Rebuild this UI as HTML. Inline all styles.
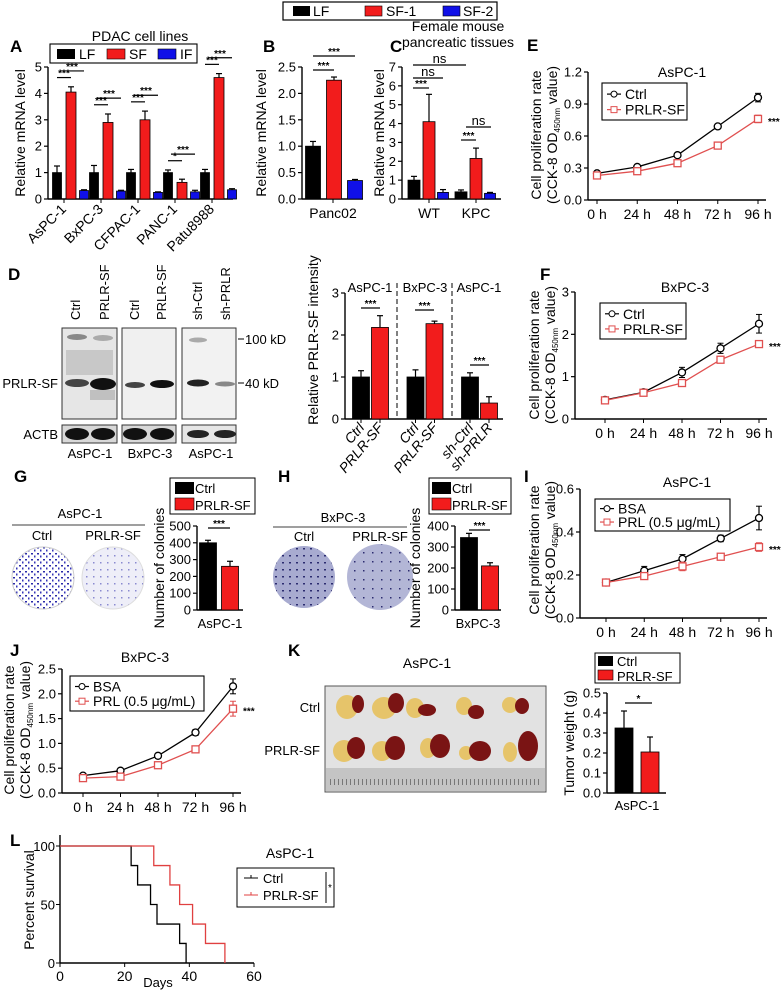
<!DOCTYPE html>
<html><head><meta charset="utf-8"><style>
html,body{margin:0;padding:0;background:#fff}
svg{display:block;font-family:"Liberation Sans",Arial,sans-serif}
text{fill:#000}
.pl{font-weight:bold;font-size:17px}
</style></head><body>
<svg id="fig" xmlns="http://www.w3.org/2000/svg" width="782" height="993" viewBox="0 0 782 993">
<defs>
<pattern id="dotsDense" width="6" height="6" patternUnits="userSpaceOnUse"><rect width="6" height="6" fill="#fff"/><rect x="1" y="1" width="2" height="1.5" fill="#2a2aa8"/><rect x="4" y="3.5" width="1.5" height="2" fill="#3535b8"/></pattern>
<pattern id="dotsLight" width="7" height="7" patternUnits="userSpaceOnUse"><rect width="7" height="7" fill="#eeeef8"/><rect x="2" y="2" width="1.5" height="1.5" fill="#8a8ad0"/></pattern>
<pattern id="dotsH1" width="7" height="7" patternUnits="userSpaceOnUse"><rect width="7" height="7" fill="#a8abd0"/><rect x="2" y="2" width="2" height="1.5" fill="#2c2c70"/></pattern>
<pattern id="dotsH2" width="9" height="9" patternUnits="userSpaceOnUse"><rect width="9" height="9" fill="#b3b6d6"/><rect x="3" y="3" width="1.5" height="1.5" fill="#2c2c70"/></pattern>
</defs>

<g>
<rect x="283" y="2" width="214" height="18" fill="#fff" stroke="#000" stroke-width="1.2"/>
<rect x="293" y="6" width="17" height="10" fill="#000"/><text x="313" y="16" font-size="14">LF</text>
<rect x="365" y="6" width="17" height="10" fill="#f21c1c" stroke="#000" stroke-width="0.6"/><text x="386" y="16" font-size="14">SF-1</text>
<rect x="443" y="6" width="17" height="10" fill="#1010e8" stroke="#000" stroke-width="0.6"/><text x="463" y="16" font-size="14">SF-2</text>
</g>

<text class="pl" x="10" y="52">A</text>
<text class="pl" x="263" y="52">B</text>
<text class="pl" x="390" y="52">C</text>
<text class="pl" x="527" y="51">E</text>
<text class="pl" x="8" y="280">D</text>
<text class="pl" x="540" y="280">F</text>
<text class="pl" x="14" y="482">G</text>
<text class="pl" x="278" y="482">H</text>
<text class="pl" x="524" y="482">I</text>
<text class="pl" x="10" y="656">J</text>
<text class="pl" x="288" y="656">K</text>
<text class="pl" x="10" y="846">L</text>

<text x="140" y="41" font-size="14" text-anchor="middle">PDAC cell lines</text>
<g>
<rect x="50" y="44" width="147" height="19" fill="#fff" stroke="#000" stroke-width="1.1"/>
<rect x="57" y="49" width="18" height="10" fill="#000"/><text x="79" y="59" font-size="14">LF</text>
<rect x="107" y="49" width="18" height="10" fill="#f21c1c" stroke="#000" stroke-width="0.6"/><text x="129" y="59" font-size="14">SF</text>
<rect x="158" y="49" width="18" height="10" fill="#1010e8" stroke="#000" stroke-width="0.6"/><text x="180" y="59" font-size="14">IF</text>
</g>
<text transform="translate(25,133) rotate(-90)" font-size="14" text-anchor="middle">Relative mRNA level</text>

<text transform="translate(266,133) rotate(-90)" font-size="14" text-anchor="middle">Relative mRNA level</text>
<text x="333" y="218" font-size="14" text-anchor="middle">Panc02</text>

<text x="458" y="31" font-size="14" text-anchor="middle">Female mouse</text>
<text x="458" y="47" font-size="14" text-anchor="middle">pancreatic tissues</text>
<text transform="translate(384,133) rotate(-90)" font-size="14" text-anchor="middle">Relative mRNA level</text>

<text x="682" y="77" font-size="14" text-anchor="middle">AsPC-1</text>
<text transform="translate(541,135) rotate(-90)" font-size="14" text-anchor="middle">Cell proliferation rate</text>
<text transform="translate(557,135) rotate(-90)" font-size="14" text-anchor="middle">(CCK-8 OD<tspan font-size="8" dy="3">450nm</tspan><tspan dy="-3"> value)</tspan></text>

<g>
<text transform="translate(80,320) rotate(-90)" font-size="13">Ctrl</text>
<text transform="translate(109,320) rotate(-90)" font-size="13">PRLR-SF</text>
<text transform="translate(139,320) rotate(-90)" font-size="13">Ctrl</text>
<text transform="translate(166,320) rotate(-90)" font-size="13">PRLR-SF</text>
<text transform="translate(202,320) rotate(-90)" font-size="13">sh-Ctrl</text>
<text transform="translate(230,320) rotate(-90)" font-size="13">sh-PRLR</text>
<rect x="62" y="328" width="55" height="91" fill="#e6e6e6" stroke="#333" stroke-width="1"/>
<rect x="122" y="328" width="54" height="91" fill="#f0f0f0" stroke="#333" stroke-width="1"/>
<rect x="182" y="328" width="54" height="91" fill="#f2f2f2" stroke="#333" stroke-width="1"/>
<ellipse cx="77" cy="337" rx="10" ry="3" fill="#888"/><ellipse cx="103" cy="338" rx="10" ry="3" fill="#aaa"/>
<rect x="66" y="350" width="47" height="25" fill="#b4b4b4" opacity="0.6"/>
<ellipse cx="77" cy="383" rx="12" ry="4" fill="#444"/><ellipse cx="103" cy="384" rx="13" ry="6" fill="#111"/>
<rect x="90" y="390" width="25" height="10" fill="#999" opacity="0.5"/>
<ellipse cx="135" cy="385" rx="10" ry="3" fill="#444"/><ellipse cx="162" cy="384" rx="12" ry="4" fill="#111"/>
<ellipse cx="198" cy="340" rx="9" ry="2.5" fill="#aaa"/>
<ellipse cx="198" cy="383" rx="11" ry="3.5" fill="#222"/><ellipse cx="225" cy="384" rx="10" ry="2.5" fill="#888"/>
<rect x="62" y="425" width="55" height="18" fill="#d8d8d8" stroke="#333"/>
<rect x="122" y="425" width="54" height="18" fill="#d8d8d8" stroke="#333"/>
<rect x="182" y="425" width="54" height="18" fill="#e6e6e6" stroke="#333"/>
<ellipse cx="77" cy="434" rx="12" ry="6" fill="#111"/><ellipse cx="103" cy="434" rx="12" ry="6" fill="#111"/>
<ellipse cx="135" cy="434" rx="12" ry="6" fill="#111"/><ellipse cx="162" cy="434" rx="12" ry="6" fill="#111"/>
<ellipse cx="198" cy="434" rx="11" ry="4" fill="#222"/><ellipse cx="225" cy="434" rx="11" ry="4" fill="#222"/>
<line x1="238" y1="339" x2="244" y2="339" stroke="#000"/><line x1="238" y1="383" x2="244" y2="383" stroke="#000"/>
<text x="245" y="344" font-size="13">100 kD</text><text x="245" y="388" font-size="13">40 kD</text>
<text x="58" y="388" font-size="13" text-anchor="end">PRLR-SF</text>
<text x="58" y="439" font-size="13" text-anchor="end">ACTB</text>
<text x="90" y="458" font-size="13" text-anchor="middle">AsPC-1</text>
<text x="150" y="458" font-size="13" text-anchor="middle">BxPC-3</text>
<text x="211" y="458" font-size="13" text-anchor="middle">AsPC-1</text>
</g>
<text transform="translate(318,340) rotate(-90)" font-size="14" text-anchor="middle">Relative PRLR-SF intensity</text>
<text x="370" y="292" font-size="13" text-anchor="middle">AsPC-1</text>
<text x="425" y="292" font-size="13" text-anchor="middle">BxPC-3</text>
<text x="479" y="292" font-size="13" text-anchor="middle">AsPC-1</text>
<line x1="397" y1="283" x2="397" y2="419" stroke="#000" stroke-dasharray="5,3"/>
<line x1="452" y1="283" x2="452" y2="419" stroke="#000" stroke-dasharray="5,3"/>

<text x="685" y="292" font-size="14" text-anchor="middle">BxPC-3</text>
<text transform="translate(539,355) rotate(-90)" font-size="14" text-anchor="middle">Cell proliferation rate</text>
<text transform="translate(555,355) rotate(-90)" font-size="14" text-anchor="middle">(CCK-8 OD<tspan font-size="8" dy="3">450nm</tspan><tspan dy="-3"> value)</tspan></text>

<g>
<text x="80" y="518" font-size="13" text-anchor="middle">AsPC-1</text>
<line x1="12" y1="525" x2="145" y2="525" stroke="#666" stroke-width="1.2"/>
<text x="42" y="540" font-size="13" text-anchor="middle">Ctrl</text>
<text x="113" y="540" font-size="13" text-anchor="middle">PRLR-SF</text>
<circle cx="43" cy="578" r="31" fill="url(#dotsDense)" stroke="#ccc"/>
<circle cx="113" cy="578" r="31" fill="url(#dotsLight)" stroke="#ddd"/>
</g>
<g>
<rect x="170" y="478" width="85" height="36" fill="#fff" stroke="#000"/>
<rect x="175" y="482" width="19" height="12" fill="#000"/><text x="195" y="493" font-size="13">Ctrl</text>
<rect x="175" y="498" width="19" height="12" fill="#f21c1c" stroke="#000" stroke-width="0.6"/><text x="195" y="510" font-size="13">PRLR-SF</text>
</g>
<text transform="translate(164,568) rotate(-90)" font-size="14" text-anchor="middle">Number of colonies</text>
<text x="220" y="628" font-size="13" text-anchor="middle">AsPC-1</text>

<g>
<text x="343" y="522" font-size="13" text-anchor="middle">BxPC-3</text>
<line x1="273" y1="527" x2="407" y2="527" stroke="#666" stroke-width="1.2"/>
<text x="304" y="541" font-size="13" text-anchor="middle">Ctrl</text>
<text x="380" y="541" font-size="13" text-anchor="middle">PRLR-SF</text>
<circle cx="304" cy="577" r="31" fill="url(#dotsH1)"/>
<circle cx="380" cy="577" r="33" fill="url(#dotsH2)"/>
</g>
<g>
<rect x="429" y="478" width="82" height="36" fill="#fff" stroke="#000"/>
<rect x="432" y="482" width="19" height="12" fill="#000"/><text x="452" y="493" font-size="13">Ctrl</text>
<rect x="432" y="498" width="19" height="12" fill="#f21c1c" stroke="#000" stroke-width="0.6"/><text x="452" y="510" font-size="13">PRLR-SF</text>
</g>
<text transform="translate(420,568) rotate(-90)" font-size="14" text-anchor="middle">Number of colonies</text>
<text x="478" y="628" font-size="13" text-anchor="middle">BxPC-3</text>

<text x="687" y="487" font-size="14" text-anchor="middle">AsPC-1</text>
<text transform="translate(539,550) rotate(-90)" font-size="14" text-anchor="middle">Cell proliferation rate</text>
<text transform="translate(555,550) rotate(-90)" font-size="14" text-anchor="middle">(CCK-8 OD<tspan font-size="8" dy="3">450nm</tspan><tspan dy="-3"> value)</tspan></text>

<text x="145" y="662" font-size="14" text-anchor="middle">BxPC-3</text>
<text transform="translate(14,730) rotate(-90)" font-size="14" text-anchor="middle">Cell proliferation rate</text>
<text transform="translate(30,730) rotate(-90)" font-size="14" text-anchor="middle">(CCK-8 OD<tspan font-size="8" dy="3">450nm</tspan><tspan dy="-3"> value)</tspan></text>

<text x="427" y="668" font-size="14" text-anchor="middle">AsPC-1</text>
<g>
<rect x="325" y="686" width="221" height="106" fill="#e2e2e2" stroke="#555"/>
<rect x="326" y="768" width="219" height="23" fill="#c4c4c4"/>
<g fill="#e6c46a"><ellipse cx="347" cy="707" rx="11" ry="12"/><ellipse cx="384" cy="708" rx="12" ry="11"/><ellipse cx="415" cy="708" rx="9" ry="10"/><ellipse cx="464" cy="706" rx="8" ry="9"/><ellipse cx="510" cy="705" rx="8" ry="8"/>
<ellipse cx="344" cy="751" rx="11" ry="11"/><ellipse cx="382" cy="751" rx="10" ry="10"/><ellipse cx="428" cy="748" rx="8" ry="10"/><ellipse cx="466" cy="753" rx="7" ry="7"/><ellipse cx="510" cy="752" rx="7" ry="10"/></g>
<g fill="#7a1414"><ellipse cx="358" cy="704" rx="6" ry="9"/><ellipse cx="396" cy="703" rx="8" ry="10"/><ellipse cx="427" cy="710" rx="9" ry="6"/><ellipse cx="476" cy="712" rx="8" ry="7"/><ellipse cx="522" cy="706" rx="7" ry="8"/>
<ellipse cx="356" cy="748" rx="9" ry="11"/><ellipse cx="395" cy="748" rx="10" ry="12"/><ellipse cx="440" cy="746" rx="10" ry="12"/><ellipse cx="480" cy="751" rx="11" ry="10"/><ellipse cx="528" cy="746" rx="10" ry="15"/></g>
<path d="M330 782 H542" stroke="#777" stroke-dasharray="1,3" stroke-width="6"/>
</g>
<text x="320" y="712" font-size="13" text-anchor="end">Ctrl</text>
<text x="320" y="755" font-size="13" text-anchor="end">PRLR-SF</text>
<g>
<rect x="595" y="653" width="85" height="30" fill="#fff" stroke="#000"/>
<rect x="598" y="656" width="15" height="10" fill="#000"/><text x="617" y="666" font-size="13">Ctrl</text>
<rect x="598" y="670" width="15" height="10" fill="#f21c1c" stroke="#000" stroke-width="0.6"/><text x="617" y="681" font-size="13">PRLR-SF</text>
</g>
<text transform="translate(574,743) rotate(-90)" font-size="14" text-anchor="middle">Tumor weight (g)</text>
<text x="637" y="810" font-size="13" text-anchor="middle">AsPC-1</text>

<text transform="translate(34,900) rotate(-90)" font-size="14" text-anchor="middle">Percent survival</text>
<text x="158" y="987" font-size="13" text-anchor="middle">Days</text>
<text x="290" y="858" font-size="14" text-anchor="middle">AsPC-1</text>
<g>
<rect x="237" y="868" width="97" height="39" fill="#fff" stroke="#000"/>
<line x1="244" y1="878" x2="258" y2="878" stroke="#000"/><line x1="251" y1="875" x2="251" y2="878" stroke="#000"/>
<text x="263" y="883" font-size="13">Ctrl</text>
<line x1="244" y1="895" x2="258" y2="895" stroke="#e04040"/><line x1="251" y1="892" x2="251" y2="895" stroke="#e04040"/>
<text x="263" y="900" font-size="13">PRLR-SF</text>
<line x1="326" y1="872" x2="326" y2="903" stroke="#000"/><text x="328" y="891" font-size="10">*</text>
</g>
</svg>
<script>
const A_cats = ["AsPC-1","BxPC-3","CFPAC-1","PANC-1","Patu8988"];
const A_LF = [1,1,1,1,1];
const A_LFe = [0.25,0.27,0.12,0.1,0.12];
const A_SF = [4.05,2.9,3.0,0.63,4.6];
const A_SFe = [0.2,0.32,0.33,0.12,0.15];
const A_IF = [0.32,0.3,0.25,0.27,0.35];
const A_IFe = [0.03,0.03,0.02,0.06,0.04];
const A_ticks = [0,1,2,3,4,5];
const B_vals = [1.0,2.25,0.35];
const B_errs = [0.09,0.06,0.02];
const B_ticks = [0,0.5,1.0,1.5,2.0,2.5];
const B_labels = ["0.0","0.5","1.0","1.5","2.0","2.5"];
const C_cats = ["WT","KPC"];
const C_LF = [1.0,0.38];
const C_LFe = [0.2,0.1];
const C_SF = [4.1,2.15];
const C_SFe = [1.45,0.55];
const C_IF = [0.35,0.3];
const C_IFe = [0.15,0.05];
const C_ticks = [0,1,2,3,4,5,6,7];
const time_cats = ["0 h","24 h","48 h","72 h","96 h"];
const E_ctrl = [0.25,0.31,0.42,0.69,0.96];
const E_ctrlE = [0.01,0.015,0.01,0.02,0.04];
const E_sf = [0.23,0.27,0.345,0.51,0.76];
const E_sfE = [0.01,0.01,0.01,0.01,0.035];
const E_ticks = [0,0.3,0.6,0.9,1.2];
const E_labels = ["0.0","0.3","0.6","0.9","1.2"];
const D_cats = ["Ctrl","PRLR-SF","Ctrl","PRLR-SF","sh-Ctrl","sh-PRLR"];
const D_vals = [1.0,2.18,1.0,2.27,1.0,0.38];
const D_errs = [0.15,0.28,0.17,0.06,0.1,0.15];
const D_ticks = [0,1,2,3];
const F_ctrl = [0.45,0.63,1.1,1.67,2.25];
const F_ctrlE = [0.03,0.05,0.12,0.12,0.22];
const F_sf = [0.44,0.62,0.85,1.4,1.77];
const F_sfE = [0.03,0.05,0.08,0.05,0.07];
const F_ticks = [0,1,2,3];
const G_vals = [400,260];
const G_errs = [15,30];
const G_ticks = [0,100,200,300,400,500];
const H_vals = [345,210];
const H_errs = [20,15];
const H_ticks = [0,100,200,300,400];
const I_bsa = [0.165,0.22,0.275,0.37,0.465];
const I_bsaE = [0.008,0.02,0.02,0.015,0.055];
const I_prl = [0.165,0.195,0.24,0.285,0.33];
const I_prlE = [0.008,0.012,0.02,0.015,0.02];
const I_ticks = [0,0.2,0.4,0.6];
const I_labels = ["0.0","0.2","0.4","0.6"];
const J_bsa = [0.35,0.45,0.75,1.22,2.15];
const J_bsaE = [0.02,0.02,0.05,0.06,0.15];
const J_prl = [0.3,0.33,0.56,0.88,1.7];
const J_prlE = [0.02,0.02,0.06,0.05,0.15];
const J_ticks = [0,0.5,1.0,1.5,2.0,2.5];
const J_labels = ["0.0","0.5","1.0","1.5","2.0","2.5"];
const K_vals = [0.325,0.205];
const K_errs = [0.085,0.075];
const K_ticks = [0,0.1,0.2,0.3,0.4,0.5];
const K_labels = ["0.0","0.1","0.2","0.3","0.4","0.5"];
const L_ctrlDays = [0,22,24,28,30,37,39];
const L_ctrlSurv = [100,83.3,66.7,50,33.3,16.7,0];
const L_sfDays = [0,29,34,37,41,45,51];
const L_sfSurv = [100,83.3,66.7,50,33.3,16.7,0];
const L_yticks = [0,50,100];
const L_xticks = [0,20,40,60];

const NS = 'http://www.w3.org/2000/svg';
const svg = document.getElementById('fig');
const RED = '#f21c1c', BLUE = '#1010e8', LRED = '#e05050';
function mk(tag, a, parent) {
  const e = document.createElementNS(NS, tag);
  for (const k in a) e.setAttribute(k, a[k]);
  (parent || svg).appendChild(e);
  return e;
}
function lin(d0, d1, r0, r1) { return v => r0 + (v - d0) / (d1 - d0) * (r1 - r0); }
function group(name) {
  const g = mk('g', {});
  
  
  return g;
}
function yAxis(name, x, ys, ticks, labels) {
  const g = group(name);
  mk('line', {x1: x, x2: x, y1: ys(ticks[0]), y2: ys(ticks[ticks.length - 1]), stroke: '#000', 'stroke-width': 1.4}, g);
  ticks.forEach((t, i) => {
    mk('line', {x1: x - 4, x2: x, y1: ys(t), y2: ys(t), stroke: '#000', 'stroke-width': 1.2}, g);
    const tx = mk('text', {x: x - 6, y: ys(t) + 4.5, 'text-anchor': 'end', 'font-size': 13}, g);
    
    
    tx.textContent = labels ? labels[i] : String(t);
  });
}
function xLine(name, x1, x2, y) {
  const l = mk('line', {x1: x1, x2: x2, y1: y, y2: y, stroke: '#000', 'stroke-width': 1.4});
  
  
}
function bar(name, cx, w, ys, v, e, fill) {
  const g = group(name);
  mk('line', {x1: cx, x2: cx, y1: ys(v), y2: ys(v + e), stroke: '#000', 'stroke-width': 1.2}, g);
  mk('line', {x1: cx - 3, x2: cx + 3, y1: ys(v + e), y2: ys(v + e), stroke: '#000', 'stroke-width': 1.2}, g);
  mk('rect', {x: cx - w / 2, y: ys(v), width: w, height: ys(0) - ys(v), fill: fill, stroke: '#000', 'stroke-width': 0.8}, g);
}
function sig(name, x1, x2, y, label) {
  const g = group(name);
  mk('line', {x1: x1, x2: x2, y1: y, y2: y, stroke: '#000', 'stroke-width': 1.2}, g);
  const t = mk('text', {x: (x1 + x2) / 2, y: label === 'ns' ? y - 2 : y - 1, 'text-anchor': 'middle', 'font-size': label === 'ns' ? 13 : 10, 'font-weight': label === 'ns' ? 'normal' : 'bold'}, g);
  t.textContent = label;
}
function xLabel(text, x, y, rot, italic, size) {
  const t = mk('text', {x: 0, y: 0, 'text-anchor': rot ? 'end' : 'middle', 'font-size': size || 13, transform: 'translate(' + x + ',' + y + ') rotate(' + (rot || 0) + ')'});
  if (italic) t.setAttribute('font-style', 'italic');
  
  
  t.textContent = text;
}

(function () {
  const ys = lin(0, 5, 199, 67);
  const xc = i => 71 + i * 37;
  yAxis('a-y-axis', 48, ys, A_ticks);
  xLine('a-x-axis', 48, 233, 199);
  A_cats.forEach((c, i) => {
    bar('a-bar-lf-' + i, xc(i) - 14, 9, ys, A_LF[i], A_LFe[i], '#000');
    bar('a-bar-sf-' + i, xc(i), 10, ys, A_SF[i], A_SFe[i], RED);
    bar('a-bar-if-' + i, xc(i) + 13, 9, ys, A_IF[i], A_IFe[i], BLUE);
    mk('line', {x1: xc(i) - 7, x2: xc(i) - 7, y1: 199, y2: 203, stroke: '#000'});
    xLabel(c, xc(i) - 4, 210, -45, false, 14);
    const top = Math.max(A_LF[i] + A_LFe[i], A_SF[i] + A_SFe[i]);
    sig('a-sig-sf-' + i, xc(i) - 14, xc(i), ys(top + 0.35), i === 3 ? '*' : '***');
    sig('a-sig-if-' + i, xc(i) - 11, xc(i) + 13, ys(top + 0.6), '***');
  });
})();

(function () {
  const ys = lin(0, 2.5, 199, 67);
  const xc = i => 313 + i * 21;
  yAxis('b-y-axis', 302, ys, B_ticks, B_labels);
  xLine('b-x-axis', 302, 363, 199);
  const cols = ['#000', RED, BLUE];
  B_vals.forEach((v, i) => bar('b-bar-' + i, xc(i), 15, ys, v, B_errs[i], cols[i]));
  mk('line', {x1: 333, x2: 333, y1: 199, y2: 203, stroke: '#000'});
  sig('b-sig-1', 313, 334, 70, '***');
  sig('b-sig-2', 313, 355, 56, '***');
})();

(function () {
  const ys = lin(0, 7, 199, 67);
  const xc = i => 429 + i * 47;
  yAxis('c-y-axis', 402, ys, C_ticks);
  xLine('c-x-axis', 402, 501, 199);
  C_cats.forEach((c, i) => {
    bar('c-bar-lf-' + i, xc(i) - 15, 12, ys, C_LF[i], C_LFe[i], '#000');
    bar('c-bar-sf-' + i, xc(i), 12, ys, C_SF[i], C_SFe[i], RED);
    bar('c-bar-if-' + i, xc(i) + 14, 11, ys, C_IF[i], C_IFe[i], BLUE);
    mk('line', {x1: xc(i), x2: xc(i), y1: 199, y2: 203, stroke: '#000'});
    xLabel(c, xc(i), 218, 0, false, 14);
  });
  sig('c-sig-wt-sf', 413, 429, 88, '***');
  sig('c-sig-wt-if', 413, 443, 78, 'ns');
  sig('c-sig-wt-kpc', 413, 466, 65, 'ns');
  sig('c-sig-kpc-sf', 461, 476, 140, '***');
  sig('c-sig-kpc-if', 466, 491, 127, 'ns');
})();

function lineChart(p, axisX, y0, ys, x0h, x96, ticks, labels, s1, e1, s2, e2, leg, names, star) {
  const xs = lin(0, 4, x0h, x96);
  yAxis(p + '-y-axis', axisX, ys, ticks, labels);
  xLine(p + '-x-axis', axisX, x96 + 8, y0);
  time_cats.forEach((c, i) => {
    mk('line', {x1: xs(i), x2: xs(i), y1: y0, y2: y0 + 4, stroke: '#000'});
    xLabel(c, xs(i), y0 + 19, 0, false, 14);
  });
  const series = [[s1, e1, '#000', 'circle', names[0]], [s2, e2, LRED, 'square', names[1]]];
  series.forEach(([s, e, col, shape, nm]) => {
    const g = group(p + '-series-' + nm);
    mk('polyline', {points: s.map((v, i) => xs(i) + ',' + ys(v)).join(' '), fill: 'none', stroke: col, 'stroke-width': 1.3}, g);
    s.forEach((v, i) => {
      mk('line', {x1: xs(i), x2: xs(i), y1: ys(v - e[i]), y2: ys(v + e[i]), stroke: col, 'stroke-width': 1.2}, g);
      mk('line', {x1: xs(i) - 3, x2: xs(i) + 3, y1: ys(v + e[i]), y2: ys(v + e[i]), stroke: col}, g);
      mk('line', {x1: xs(i) - 3, x2: xs(i) + 3, y1: ys(v - e[i]), y2: ys(v - e[i]), stroke: col}, g);
      if (shape === 'circle') mk('circle', {cx: xs(i), cy: ys(v), r: 3.5, fill: '#fff', stroke: col, 'stroke-width': 1.3}, g);
      else mk('rect', {x: xs(i) - 3.5, y: ys(v) - 3.5, width: 7, height: 7, fill: '#fff', stroke: col, 'stroke-width': 1.3}, g);
    });
  });
  const st = mk('text', {x: x96 + 10, y: ys(s2[4]) + 6, 'font-size': 10, 'font-weight': 'bold'});
  
  
  st.textContent = '***';
  const lg = group(p + '-legend');
  mk('rect', {x: leg[0], y: leg[1], width: leg[2], height: leg[3], fill: '#fff', stroke: '#000', 'stroke-width': 1.1}, lg);
  [0, 1].forEach(k => {
    const yy = leg[1] + leg[3] * (k === 0 ? 0.3 : 0.72);
    const col = k === 0 ? '#000' : LRED;
    mk('line', {x1: leg[0] + 5, x2: leg[0] + 19, y1: yy, y2: yy, stroke: col, 'stroke-width': 1.2}, lg);
    if (k === 0) mk('circle', {cx: leg[0] + 12, cy: yy, r: 3, fill: '#fff', stroke: col}, lg);
    else mk('rect', {x: leg[0] + 9, y: yy - 3, width: 6, height: 6, fill: '#fff', stroke: col}, lg);
    const t = mk('text', {x: leg[0] + 23, y: yy + 5, 'font-size': 14}, lg);
    t.textContent = star[k];
  });
}
lineChart('e', 588, 200, lin(0, 1.2, 200, 72), 597, 758, E_ticks, E_labels, E_ctrl, E_ctrlE, E_sf, E_sfE, [602, 83, 85, 37], ['ctrl', 'prlr-sf'], ['Ctrl', 'PRLR-SF']);
lineChart('f', 575, 419, lin(0, 3, 419, 292), 605, 759, F_ticks, null, F_ctrl, F_ctrlE, F_sf, F_sfE, [600, 303, 86, 36], ['ctrl', 'prlr-sf'], ['Ctrl', 'PRLR-SF']);
lineChart('i', 580, 618, lin(0, 0.6, 618, 489), 606, 759, I_ticks, I_labels, I_bsa, I_bsaE, I_prl, I_prlE, [595, 499, 135, 32], ['bsa', 'prl'], ['BSA', 'PRL (0.5 μg/mL)']);
lineChart('j', 62, 793, lin(0, 2.5, 793, 669), 83, 233, J_ticks, J_labels, J_bsa, J_bsaE, J_prl, J_prlE, [70, 676, 134, 35], ['bsa', 'prl'], ['BSA', 'PRL (0.5 μg/mL)']);

(function () {
  const ys = lin(0, 3, 419, 293);
  const xc = i => 361 + Math.floor(i / 2) * 54.5 + (i % 2) * 19;
  yAxis('d-y-axis', 345, ys, D_ticks);
  xLine('d-x-axis', 345, 503, 419);
  D_cats.forEach((c, i) => {
    bar('d-bar-' + i, xc(i), 17, ys, D_vals[i], D_errs[i], i % 2 ? RED : '#000');
    mk('line', {x1: xc(i), x2: xc(i), y1: 419, y2: 423, stroke: '#000'});
    xLabel(c, xc(i) + 4, 428, -50, true, 14);
  });
  sig('d-sig-1', 361, 380, 308, '***');
  sig('d-sig-2', 415, 434, 310, '***');
  sig('d-sig-3', 470, 489, 365, '***');
})();

(function () {
  let ys = lin(0, 500, 610, 526);
  yAxis('g-y-axis', 197, ys, G_ticks);
  xLine('g-x-axis', 197, 243, 610);
  G_vals.forEach((v, i) => bar('g-bar-' + i, 208 + i * 22, 17, ys, v, G_errs[i], i ? RED : '#000'));
  sig('g-sig', 208, 230, 528, '***');
  ys = lin(0, 400, 610, 526);
  yAxis('h-y-axis', 455, ys, H_ticks);
  xLine('h-x-axis', 455, 501, 610);
  H_vals.forEach((v, i) => bar('h-bar-' + i, 469 + i * 21, 17, ys, v, H_errs[i], i ? RED : '#000'));
  sig('h-sig', 469, 490, 530, '***');
  ys = lin(0, 0.5, 793, 693);
  yAxis('k-y-axis', 607, ys, K_ticks, K_labels);
  xLine('k-x-axis', 607, 666, 793);
  K_vals.forEach((v, i) => bar('k-bar-' + i, 624 + i * 26, 18, ys, v, K_errs[i], i ? RED : '#000'));
  sig('k-sig', 625, 652, 703, '*');
})();

(function () {
  const ys = lin(0, 100, 963, 846);
  const xs = lin(0, 60, 60, 254);
  const g = group('l-y-axis');
  mk('line', {x1: 60, x2: 60, y1: 963, y2: 835, stroke: '#000', 'stroke-width': 1.4}, g);
  L_yticks.forEach(t => {
    mk('line', {x1: 56, x2: 60, y1: ys(t), y2: ys(t), stroke: '#000'}, g);
    const tx = mk('text', {x: 55, y: ys(t) + 5, 'text-anchor': 'end', 'font-size': 13}, g);
    tx.textContent = t;
  });
  xLine('l-x-axis', 60, 254, 963);
  L_xticks.forEach(t => {
    mk('line', {x1: xs(t), x2: xs(t), y1: 963, y2: 967, stroke: '#000'});
    xLabel(String(t), xs(t), 981, 0, false, 14);
  });
  [[L_ctrlDays, L_ctrlSurv, '#000', 'ctrl'], [L_sfDays, L_sfSurv, '#e04040', 'prlr-sf']].forEach(([d, s, col, nm]) => {
    let pts = [];
    for (let i = 0; i < d.length; i++) {
      if (i > 0) pts.push(xs(d[i]) + ',' + ys(s[i - 1]));
      pts.push(xs(d[i]) + ',' + ys(s[i]));
    }
    const pl = mk('polyline', {points: pts.join(' '), fill: 'none', stroke: col, 'stroke-width': 1.3});
    
    
  });
})();
</script>
</body></html>
